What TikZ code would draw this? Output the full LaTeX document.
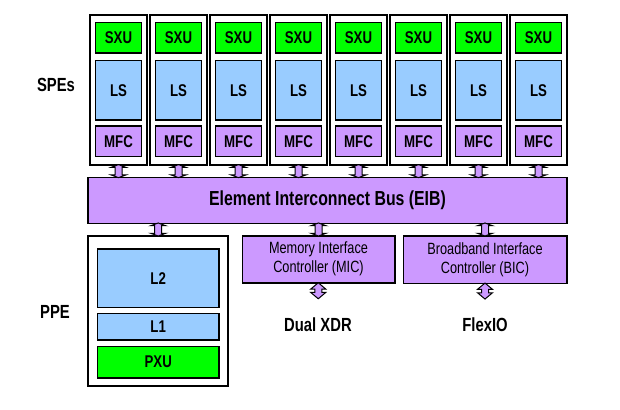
\documentclass[tikz,border=0pt]{standalone}
\usepackage{fontspec}
\setmainfont{Liberation Sans}[FakeStretch=0.78]
\usetikzlibrary{shapes.arrows}

\definecolor{spugreen}{RGB}{0,255,0}
\definecolor{memblue}{RGB}{153,204,255}
\definecolor{busviolet}{RGB}{204,153,255}

\begin{document}
\begin{tikzpicture}[x=1pt, y=-1pt]
\tikzstyle{unit}=[draw, line width=1.6pt, inner sep=0pt]
\tikzstyle{frame}=[unit, fill=white, minimum width=57pt, minimum height=150pt]
\tikzstyle{sxu}=[unit, fill=spugreen, minimum width=46pt, minimum height=30.6pt, font=\fontsize{17}{18}\selectfont\bfseries]
\tikzstyle{ls}=[unit, fill=memblue, minimum width=46pt, minimum height=59.3pt, font=\fontsize{17}{18}\selectfont\bfseries]
\tikzstyle{mfc}=[unit, fill=busviolet, minimum width=46pt, minimum height=30.7pt, font=\fontsize{17}{18}\selectfont\bfseries]
\tikzstyle{ctrl}=[unit, fill=busviolet, align=center, font=\fontsize{16.3}{19}\selectfont]
\tikzstyle{caption}=[font=\fontsize{19}{20}\selectfont\bfseries]
\tikzstyle{link}=[double arrow, draw, line width=1pt, fill=busviolet, inner sep=3pt,
  shape border rotate=90, double arrow head extend=4pt, double arrow tip angle=140,
  minimum height=13pt]

\useasboundingbox (0,0) rectangle (620,409);

% synergistic processor elements
\foreach \i in {1,...,8} {
  \node[frame] (spe\i) at ({118.5+60*(\i-1)},90) {};
  \node[sxu] (sxu\i) at ({118.5+60*(\i-1)},38) {SXU};
  \node[ls] (ls\i) at ({118.5+60*(\i-1)},90.3) {LS};
  \node[mfc] (mfc\i) at ({118.5+60*(\i-1)},141.3) {MFC};
}
\node[caption] (spes) at (56,85) {SPEs};

% bus
\node[unit, fill=busviolet, minimum width=479pt, minimum height=46pt,
  font=\fontsize{20.3}{22}\selectfont\bfseries] (eib) at (327.5,200.3) {Element Interconnect Bus (EIB)};

\foreach \i in {1,...,8} {
  \path (spe\i.south) -- (spe\i.south |- eib.north) node[midway, link] {};
}

% power processor element
\node[unit, fill=white, minimum width=140pt, minimum height=150pt] (ppe) at (158.2,310.7) {};
\node[unit, fill=memblue, minimum width=121.7pt, minimum height=58.7pt,
  font=\fontsize{17}{18}\selectfont\bfseries] (L2) at (158.2,278.3) {L2};
\node[unit, fill=memblue, minimum width=121.7pt, minimum height=26.3pt,
  font=\fontsize{17}{18}\selectfont\bfseries] (L1) at (158.2,326.8) {L1};
\node[unit, fill=spugreen, minimum width=121.7pt, minimum height=31.7pt,
  font=\fontsize{17}{18}\selectfont\bfseries] (pxu) at (158.2,362.2) {PXU};
\node[caption] (ppelabel) at (55,312) {PPE};

% interface controllers
\node[ctrl, minimum width=152.4pt, minimum height=47pt] (mic) at (318.5,259.2)
  {Memory Interface\\Controller (MIC)};
\node[ctrl, minimum width=163.4pt, minimum height=47.6pt] (bic) at (485,259.5)
  {Broadband Interface\\Controller (BIC)};
\node[caption] (xdr) at (318,325) {Dual XDR};
\node[caption] (flexio) at (485,325) {FlexIO};
\coordinate (xdrtop) at (318,298);
\coordinate (fiotop) at (485,298);

\path (ppe.north |- eib.south) -- (ppe.north) node[midway, link] {};
\path (mic.north |- eib.south) -- (mic.north) node[midway, link] {};
\path (bic.north |- eib.south) -- (bic.north) node[midway, link] {};
\path (mic.south) -- (xdrtop) node[midway, link, minimum height=16pt, double arrow tip angle=100] {};
\path (bic.south) -- (fiotop) node[midway, link, minimum height=16pt, double arrow tip angle=100] {};

\end{tikzpicture}
\end{document}
